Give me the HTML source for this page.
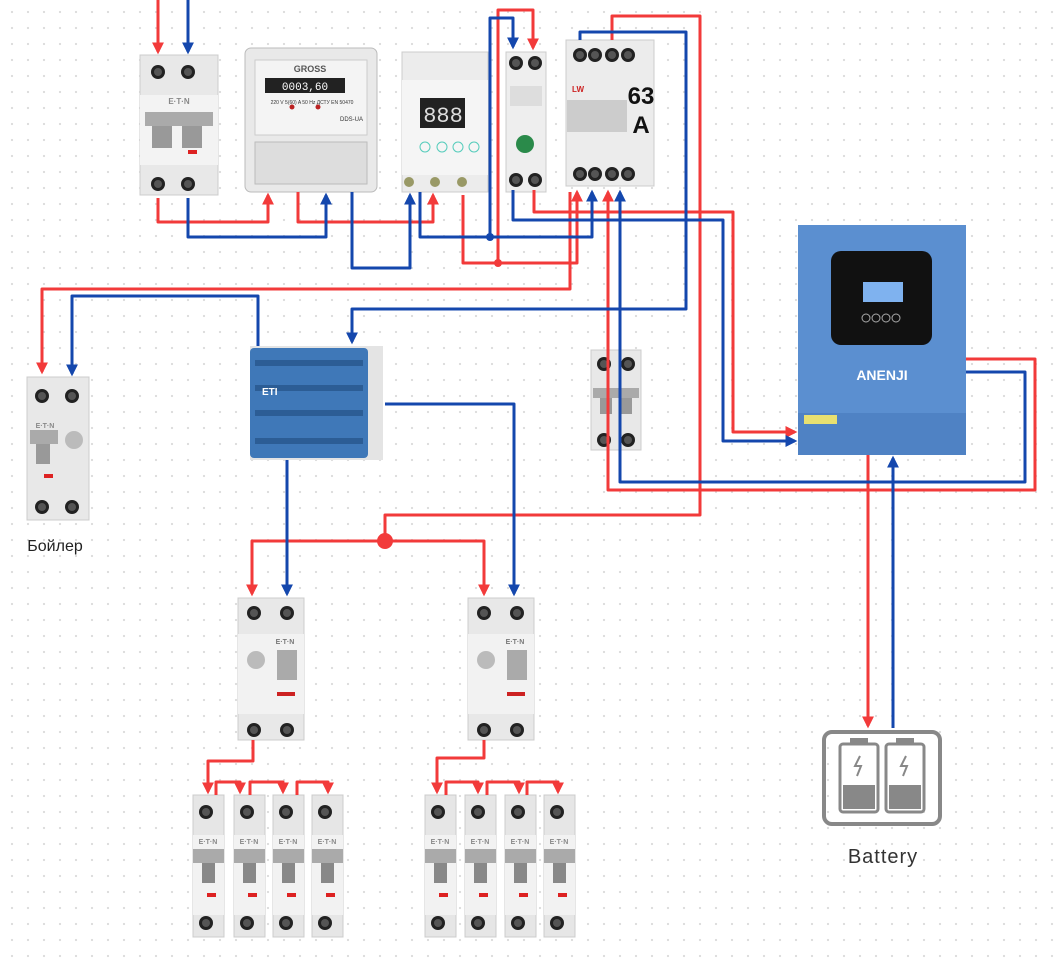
<!DOCTYPE html>
<html><head><meta charset="utf-8"><style>
html,body{margin:0;padding:0;background:#fff}
body{width:1063px;height:958px;overflow:hidden;position:relative;
background-image:radial-gradient(circle,#dcdcdc 1px,transparent 1.3px);background-size:16px 16px;background-position:4px 4px}
svg{position:absolute;left:0;top:0}
</style></head><body>
<svg width="1063" height="958" viewBox="0 0 1063 958" font-family="Liberation Sans, DejaVu Sans, sans-serif">
<defs>
<marker id="ar" viewBox="0 0 10 10" refX="8" refY="5" markerWidth="4" markerHeight="4" orient="auto"><path d="M0,0L10,5L0,10z" fill="#f23a3a"/></marker>
<marker id="ab" viewBox="0 0 10 10" refX="8" refY="5" markerWidth="4" markerHeight="4" orient="auto"><path d="M0,0L10,5L0,10z" fill="#1447ad"/></marker>
<g id="scr"><circle r="7" fill="#222"/><circle r="4" fill="#555"/></g>
<g id="mcb">
<rect x="0" y="0" width="31" height="142" fill="#e6e6e6" stroke="#ccc"/>
<use href="#scr" x="13" y="17"/>
<rect x="0" y="40" width="31" height="80" fill="#f2f2f2"/>
<text x="15" y="49" font-size="7" font-weight="bold" fill="#888" text-anchor="middle">E·T·N</text>
<rect x="0" y="54" width="31" height="14" fill="#aaa"/>
<rect x="9" y="68" width="13" height="20" fill="#888"/>
<rect x="14" y="98" width="9" height="4" fill="#d22"/>
<use href="#scr" x="13" y="128"/>
</g>
</defs>

<!-- top-left 2p breaker -->
<rect x="140" y="55" width="78" height="140" fill="#e8e8e8" stroke="#ccc"/>
<use href="#scr" x="158" y="72"/><use href="#scr" x="188" y="72"/>
<rect x="140" y="95" width="78" height="70" fill="#f3f3f3"/>
<text x="179" y="104" font-size="8" font-weight="bold" fill="#888" text-anchor="middle">E·T·N</text>
<rect x="145" y="112" width="68" height="14" fill="#aaa"/>
<rect x="152" y="126" width="20" height="22" fill="#999"/><rect x="182" y="126" width="20" height="22" fill="#999"/>
<rect x="188" y="150" width="9" height="4" fill="#d22"/>
<use href="#scr" x="158" y="184"/><use href="#scr" x="188" y="184"/>

<!-- meter -->
<rect x="245" y="48" width="132" height="144" rx="6" fill="#e9e9e9" stroke="#bbb"/>
<rect x="255" y="60" width="112" height="75" fill="#f4f4f4" stroke="#ccc"/>
<text x="310" y="72" font-size="9" font-weight="bold" fill="#555" text-anchor="middle">GROSS</text>
<rect x="265" y="78" width="80" height="15" fill="#222"/>
<text x="305" y="90" font-size="11" fill="#fff" text-anchor="middle" font-family="Liberation Mono">0003,60</text>
<text x="312" y="104" font-size="5" fill="#333" text-anchor="middle">220 V  5(60) A  50 Hz  ДСТУ EN 50470</text>
<circle cx="292" cy="107" r="2.5" fill="#b22"/><circle cx="318" cy="107" r="2.5" fill="#b22"/>
<text x="340" y="121" font-size="6" fill="#333">DDS-UA</text>
<rect x="255" y="142" width="112" height="42" fill="#ddd" stroke="#bbb"/>

<!-- voltage relay -->
<rect x="402" y="52" width="86" height="140" fill="#ececec" stroke="#ccc"/>
<rect x="402" y="80" width="86" height="95" fill="#f5f5f5"/>
<rect x="420" y="98" width="45" height="30" fill="#222"/>
<text x="443" y="122" font-size="22" fill="#ddd" text-anchor="middle" font-family="Liberation Mono">888</text>
<circle cx="425" cy="147" r="5" fill="none" stroke="#5cb"/><circle cx="442" cy="147" r="5" fill="none" stroke="#5cb"/><circle cx="458" cy="147" r="5" fill="none" stroke="#5cb"/><circle cx="474" cy="147" r="5" fill="none" stroke="#5cb"/>
<circle cx="409" cy="182" r="5" fill="#996"/><circle cx="435" cy="182" r="5" fill="#996"/><circle cx="462" cy="182" r="5" fill="#996"/>

<!-- smart module -->
<rect x="506" y="52" width="40" height="140" fill="#eee" stroke="#ccc"/>
<use href="#scr" x="516" y="63"/><use href="#scr" x="535" y="63"/>
<rect x="510" y="86" width="32" height="20" fill="#ddd"/>
<circle cx="525" cy="144" r="9" fill="#2a8a4a"/>
<use href="#scr" x="516" y="180"/><use href="#scr" x="535" y="180"/>

<!-- 63A switch -->
<rect x="566" y="40" width="88" height="146" fill="#ececec" stroke="#ccc"/>
<use href="#scr" x="580" y="55"/><use href="#scr" x="595" y="55"/><use href="#scr" x="612" y="55"/><use href="#scr" x="628" y="55"/>
<text x="641" y="104" font-size="24" font-weight="bold" fill="#111" text-anchor="middle">63</text>
<text x="641" y="133" font-size="24" font-weight="bold" fill="#111" text-anchor="middle">A</text>
<rect x="567" y="100" width="60" height="32" fill="#ccc"/>
<text x="572" y="92" font-size="8" fill="#c22" font-weight="bold">LW</text>
<use href="#scr" x="580" y="174"/><use href="#scr" x="595" y="174"/><use href="#scr" x="612" y="174"/><use href="#scr" x="628" y="174"/>

<!-- inverter -->
<rect x="798" y="225" width="168" height="230" fill="#5b8fd0"/>
<rect x="798" y="413" width="168" height="42" fill="#4f82c4"/>
<rect x="831" y="251" width="101" height="94" rx="10" fill="#111"/>
<rect x="863" y="282" width="40" height="20" fill="#7fb2ef"/>
<circle cx="866" cy="318" r="4" fill="none" stroke="#aaa"/><circle cx="876" cy="318" r="4" fill="none" stroke="#aaa"/><circle cx="886" cy="318" r="4" fill="none" stroke="#aaa"/><circle cx="896" cy="318" r="4" fill="none" stroke="#aaa"/>
<text x="882" y="380" font-size="14" font-weight="bold" fill="#fff" text-anchor="middle">ANENJI</text>
<rect x="804" y="415" width="33" height="9" fill="#e8e070"/>

<!-- mid breaker -->
<rect x="591" y="350" width="50" height="100" fill="#e8e8e8" stroke="#ccc"/>
<use href="#scr" x="604" y="364"/><use href="#scr" x="628" y="364"/>
<rect x="593" y="388" width="46" height="10" fill="#aaa"/>
<rect x="600" y="398" width="12" height="16" fill="#999"/><rect x="620" y="398" width="12" height="16" fill="#999"/>
<use href="#scr" x="604" y="440"/><use href="#scr" x="628" y="440"/>

<!-- boiler RCBO -->
<rect x="27" y="377" width="62" height="143" fill="#e8e8e8" stroke="#ccc"/>
<use href="#scr" x="42" y="396"/><use href="#scr" x="72" y="396"/>
<text x="45" y="428" font-size="7" font-weight="bold" fill="#888" text-anchor="middle">E·T·N</text>
<rect x="30" y="430" width="28" height="14" fill="#aaa"/><rect x="36" y="444" width="14" height="20" fill="#999"/>
<circle cx="74" cy="440" r="9" fill="#bbb"/>
<rect x="44" y="474" width="9" height="4" fill="#d22"/>
<use href="#scr" x="42" y="507"/><use href="#scr" x="72" y="507"/>
<text x="55" y="551" font-size="16" fill="#222" text-anchor="middle">Бойлер</text>

<!-- busbar -->
<rect x="250" y="346" width="133" height="114" fill="#e4e4e4"/>
<rect x="250" y="348" width="118" height="110" rx="4" fill="#3f78b8"/>
<rect x="255" y="360" width="108" height="6" fill="#2c5d95"/><rect x="255" y="385" width="108" height="6" fill="#2c5d95"/><rect x="255" y="410" width="108" height="6" fill="#2c5d95"/><rect x="255" y="438" width="108" height="6" fill="#2c5d95"/>
<text x="262" y="395" font-size="10" font-weight="bold" fill="#fff">ETI</text>

<!-- RCDs -->
<g id="rcd">
<rect x="238" y="598" width="66" height="142" fill="#e8e8e8" stroke="#ccc"/>
<use href="#scr" x="254" y="613"/><use href="#scr" x="287" y="613"/>
<rect x="238" y="634" width="66" height="80" fill="#f2f2f2"/>
<text x="285" y="644" font-size="7" font-weight="bold" fill="#777" text-anchor="middle">E·T·N</text>
<circle cx="256" cy="660" r="9" fill="#bbb"/><rect x="277" y="650" width="20" height="30" fill="#aaa"/>
<rect x="277" y="692" width="18" height="4" fill="#c22"/>
<use href="#scr" x="254" y="730"/><use href="#scr" x="287" y="730"/>
</g>
<use href="#rcd" x="230" y="0"/>

<!-- MCBs -->
<use href="#mcb" x="193" y="795"/><use href="#mcb" x="234" y="795"/><use href="#mcb" x="273" y="795"/><use href="#mcb" x="312" y="795"/>
<use href="#mcb" x="425" y="795"/><use href="#mcb" x="465" y="795"/><use href="#mcb" x="505" y="795"/><use href="#mcb" x="544" y="795"/>

<!-- battery -->
<rect x="824" y="732" width="116" height="92" rx="8" fill="none" stroke="#888" stroke-width="4"/>
<rect x="840" y="744" width="38" height="68" rx="3" fill="#fff" stroke="#888" stroke-width="3"/>
<rect x="886" y="744" width="38" height="68" rx="3" fill="#fff" stroke="#888" stroke-width="3"/>
<rect x="850" y="738" width="18" height="6" fill="#888"/><rect x="896" y="738" width="18" height="6" fill="#888"/>
<rect x="843" y="785" width="32" height="24" fill="#888"/><rect x="889" y="785" width="32" height="24" fill="#888"/>
<path d="M860,756l-5,10h6l-4,10" stroke="#888" stroke-width="2" fill="none"/>
<path d="M906,756l-5,10h6l-4,10" stroke="#888" stroke-width="2" fill="none"/>
<text x="883" y="863" font-size="20" fill="#333" text-anchor="middle" letter-spacing="1">Battery</text>

<!-- wires -->
<g fill="none" stroke-width="3" stroke-linejoin="round">
<g stroke="#f23a3a">
<path d="M158,0V52" marker-end="url(#ar)"/>
<path d="M158,198V222H268V195" marker-end="url(#ar)"/>
<path d="M298,192V222H433V195" marker-end="url(#ar)"/>
<path d="M463,195V263H577V192" marker-end="url(#ar)"/>
<path d="M498,263V10H533V48" marker-end="url(#ar)"/>
<path d="M570,192V289H42V372" marker-end="url(#ar)"/>
<path d="M534,190V212H733V432H795" marker-end="url(#ar)"/>
<path d="M612,40V16H700V515H385V541H252V594" marker-end="url(#ar)"/>
<path d="M385,541H484V594" marker-end="url(#ar)"/>
<path d="M966,359H1035V490H608V192" marker-end="url(#ar)"/>
<path d="M868,455V726" marker-end="url(#ar)"/>
<path d="M253,740V761H208V792" marker-end="url(#ar)"/>
<path d="M216,795V782H240V792" marker-end="url(#ar)"/>
<path d="M250,795V782H283V792" marker-end="url(#ar)"/>
<path d="M297,795V782H328V792" marker-end="url(#ar)"/>
<path d="M484,740V758H437V792" marker-end="url(#ar)"/>
<path d="M446,795V782H478V792" marker-end="url(#ar)"/>
<path d="M487,795V782H519V792" marker-end="url(#ar)"/>
<path d="M527,795V782H558V792" marker-end="url(#ar)"/>
</g>
<g stroke="#1447ad">
<path d="M188,0V52" marker-end="url(#ab)"/>
<path d="M188,198V237H326V195" marker-end="url(#ab)"/>
<path d="M352,192V268H410V195" marker-end="url(#ab)"/>
<path d="M420,192V237H592V192" marker-end="url(#ab)"/>
<path d="M490,237V18H513V47" marker-end="url(#ab)"/>
<path d="M258,346V296H72V374" marker-end="url(#ab)"/>
<path d="M513,190V220H723V441H795" marker-end="url(#ab)"/>
<path d="M580,40V32H686V309H352V342" marker-end="url(#ab)"/>
<path d="M385,404H514V594" marker-end="url(#ab)"/>
<path d="M287,460V594" marker-end="url(#ab)"/>
<path d="M966,372H1025V482H620V192" marker-end="url(#ab)"/>
<path d="M893,728V458" marker-end="url(#ab)"/>
</g>
</g>
<circle cx="498" cy="263" r="4" fill="#f23a3a"/>
<circle cx="490" cy="237" r="4" fill="#1447ad"/>
<circle cx="385" cy="541" r="8" fill="#f23a3a"/>
</svg>
</body></html>
